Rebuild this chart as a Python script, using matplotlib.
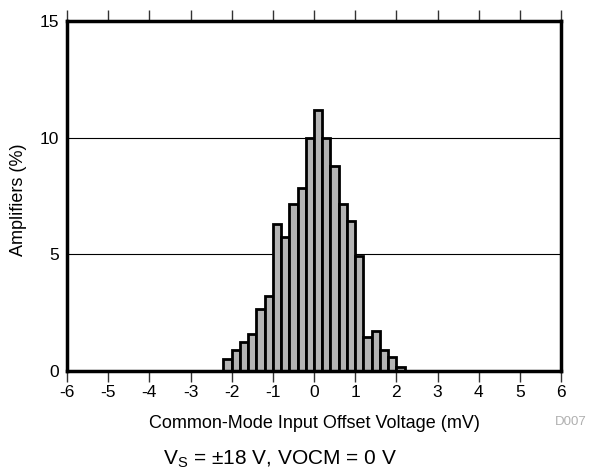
import numpy as np
import matplotlib.pyplot as plt

plt.rcParams['font.family'] = ['Liberation Sans', 'DejaVu Sans']

# histogram bins (mV) and amplifier share (%)
bin_edges = np.round(np.arange(-2.2, 2.21, 0.2), 2)
percent = [0.53, 0.88, 1.24, 1.58, 2.65, 3.23, 6.31, 5.73, 7.15, 7.86, 10.0,
           11.2, 10.0, 8.8, 7.15, 6.44, 4.93, 1.45, 1.71, 0.88, 0.61, 0.15]
x_ticks = list(range(-6, 7))
y_ticks = [0, 5, 10, 15]

fig = plt.figure(figsize=(5.89, 4.74), dpi=100)
ax = fig.add_axes([0.1138, 0.2173, 0.8387, 0.7384])

ax.bar(bin_edges[:-1], percent, width=0.2, align='edge',
       color='#b4b4b4', edgecolor='black', linewidth=2, zorder=3)

ax.set_xlim(-6, 6)
ax.set_ylim(0, 15)
ax.set_xticks(x_ticks)
ax.set_xticklabels([str(t) for t in x_ticks])
ax.set_yticks(y_ticks)
ax.grid(axis='y', color='black', linewidth=0.8, zorder=1)

ax.tick_params(axis='x', direction='out', length=8, width=1, top=True,
               labelsize=12.5, pad=2, color='#333333')
ax.tick_params(axis='y', length=0, labelsize=12.5, pad=6)

for s in ax.spines.values():
    s.set_linewidth(2.5)
    s.set_zorder(4)

ax.set_xlabel('Common-Mode Input Offset Voltage (mV)', fontsize=13)
ax.xaxis.set_label_coords(0.5, -0.149)
ax.xaxis.label.set_va('center')
ax.set_ylabel('Amplifiers (%)', fontsize=13)
ax.yaxis.set_label_coords(-0.098, 0.49)
ax.yaxis.label.set_va('center')

fig.text(571 / 589, 1 - 422 / 474, 'D007', fontsize=9.5, color='#b0b0b0',
         ha='center', va='center')
fig.text(280 / 589, 1 - 459 / 474, r'V$_\mathregular{S}$ = ±18 V, VOCM = 0 V',
         fontsize=15, ha='center', va='center')

fig.savefig('out.png', dpi=100)
